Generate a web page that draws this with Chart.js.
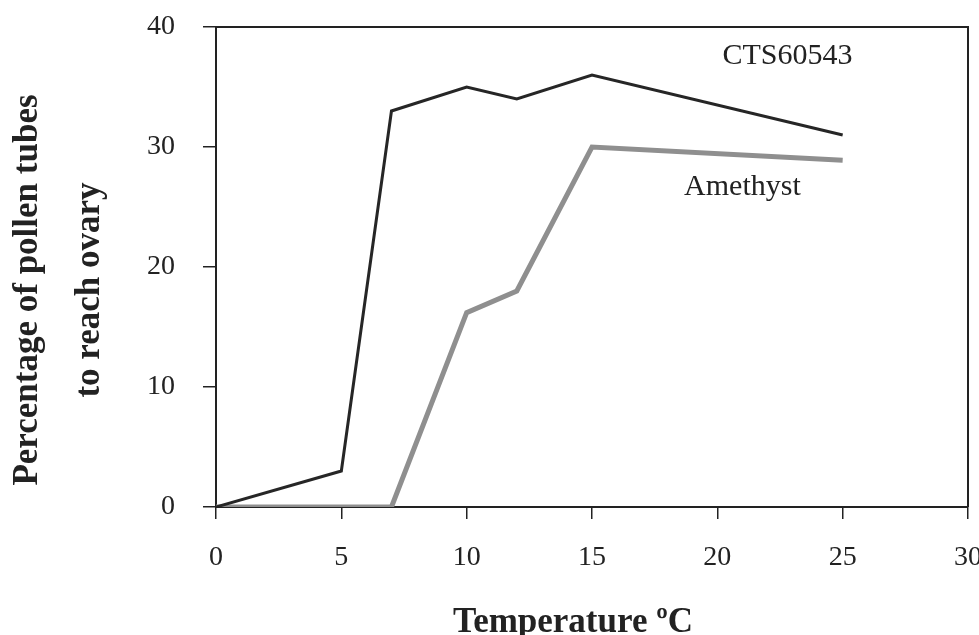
<!DOCTYPE html>
<html>
<head>
<meta charset="utf-8">
<script src="https://cdn.jsdelivr.net/npm/chart.js@4.4.1/dist/chart.umd.min.js"></script>
<style>
  html, body { margin: 0; padding: 0; background: #fff; }
  #wrap { width: 979px; height: 635px; }
</style>
</head>
<body>
<div id="wrap"><canvas id="chart"></canvas></div>
<script>
// temperatures (ºC) and percentages
const temperatures = [0, 5, 7, 10, 12, 15, 25];
const cts60543 = [0, 3, 33, 35, 34, 36, 31];
const amethyst = [0, 0, 0, 16.2, 18, 30, 28.9];

const seriesNames = ["CTS60543", "Amethyst"];
// where the series names sit, in data units (x = ºC, y = %)
const nameSpots = [
  { x: 22.8, y: 36.9 },
  { x: 21.0, y: 26.0 },
];

const yTitle = ["Percentage of pollen tubes", "to reach ovary"];
const xTitle = "Temperature ºC";

const serif = "'Liberation Serif', 'Times New Roman', serif";
const ink = "#222";

const toPoints = (ys) => temperatures.map((t, i) => ({ x: t, y: ys[i] }));

// box around plot, series names and axis titles
const decorations = {
  id: "decorations",
  beforeDatasetsDraw(chart) {
    const { ctx, chartArea: a } = chart;
    ctx.save();
    ctx.strokeStyle = ink;
    ctx.lineWidth = 2;
    ctx.beginPath();
    ctx.moveTo(a.left, a.top);
    ctx.lineTo(a.right, a.top);
    ctx.lineTo(a.right, a.bottom);
    ctx.stroke();
    ctx.restore();
  },
  afterDraw(chart) {
    const { ctx, scales } = chart;
    ctx.save();
    ctx.fillStyle = ink;

    // series names
    ctx.font = "30px " + serif;
    ctx.textAlign = "center";
    ctx.textBaseline = "alphabetic";
    seriesNames.forEach((name, i) => {
      ctx.fillText(name, scales.x.getPixelForValue(nameSpots[i].x), scales.y.getPixelForValue(nameSpots[i].y));
    });

    // axis titles
    ctx.font = "bold 35px " + serif;
    ctx.fillText(xTitle, 573, 632);

    ctx.translate(0, 290);
    ctx.rotate(-Math.PI / 2);
    ctx.fillText(yTitle[0], 0, 37);
    ctx.fillText(yTitle[1], 0, 99);
    ctx.restore();
  },
};

new Chart(document.getElementById("chart"), {
  type: "line",
  plugins: [decorations],
  data: {
    datasets: [
      {
        label: seriesNames[1],
        data: toPoints(amethyst),
        borderColor: "#8f8f8f",
        borderWidth: 5,
        pointRadius: 0,
        tension: 0,
        order: 2,
      },
      {
        label: seriesNames[0],
        data: toPoints(cts60543),
        borderColor: "#262626",
        borderWidth: 3,
        pointRadius: 0,
        tension: 0,
        order: 1,
      },
    ],
  },
  options: {
    responsive: true,
    maintainAspectRatio: false,
    animation: false,
    layout: { padding: { top: 27, right: 11, left: 0, bottom: 0 } },
    plugins: {
      legend: { display: false },
      tooltip: { enabled: false },
    },
    scales: {
      x: {
        type: "linear",
        min: 0,
        max: 30,
        ticks: { stepSize: 5, color: ink, padding: 22, font: { family: serif, size: 28 } },
        grid: { drawOnChartArea: false, drawTicks: true, tickLength: 12, color: ink, lineWidth: 1.5 },
        border: { display: true, color: ink, width: 2 },
        afterFit: (s) => {
          s.height = 128;
          s.paddingLeft = 0;
          s.paddingRight = 0;
        },
      },
      y: {
        min: 0,
        max: 40,
        ticks: { stepSize: 10, color: ink, padding: 28, font: { family: serif, size: 28 } },
        grid: { drawOnChartArea: false, drawTicks: true, tickLength: 13, color: ink, lineWidth: 1.5 },
        border: { display: true, color: ink, width: 2 },
        afterFit: (s) => {
          s.width = 216;
          s.paddingTop = 0;
          s.paddingBottom = 0;
        },
      },
    },
  },
});
</script>
</body>
</html>
